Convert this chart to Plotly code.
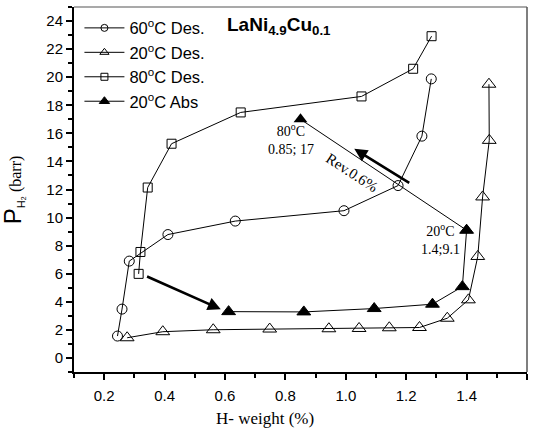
import plotly.graph_objects as go

# 60 °C desorption isotherm
des60_x = [0.244, 0.259, 0.283, 0.411, 0.634, 0.994, 1.173, 1.252, 1.283]
des60_y = [1.56, 3.48, 6.90, 8.79, 9.75, 10.49, 12.28, 15.8, 19.88]

# 20 °C desorption isotherm
des20_x = [0.276, 0.394, 0.561, 0.748, 0.944, 1.044, 1.144, 1.244, 1.336, 1.406, 1.437, 1.453, 1.475, 1.474]
des20_y = [1.44, 1.87, 2.01, 2.06, 2.08, 2.10, 2.15, 2.17, 2.83, 4.14, 7.23, 11.47, 15.5, 19.5]

# 80 °C desorption isotherm
des80_x = [0.314, 0.320, 0.344, 0.423, 0.652, 1.052, 1.223, 1.284]
des80_y = [5.99, 7.55, 12.14, 15.26, 17.49, 18.63, 20.6, 22.92]

# 20 °C absorption isotherm
abs20_x = [0.612, 0.861, 1.094, 1.287, 1.386, 1.4]
abs20_y = [3.30, 3.28, 3.52, 3.83, 5.08, 9.1]

# reversible capacity segment between the two labelled states
rev_x = [1.4, 0.85]
rev_y = [9.1, 17]

series_names = ["60<sup>o</sup>C Des.", "20<sup>o</sup>C Des.", "80<sup>o</sup>C Des.", "20<sup>o</sup>C Abs"]

serif = "Times New Roman, Liberation Serif, serif"
sans = "Arial, Liberation Sans, sans-serif"

fig = go.Figure()
line = dict(color="black", width=1)
styles = [
    ("circle-open", 10, 7),
    ("triangle-up-open", 12, 8),
    ("square-open", 9, 7),
    ("triangle-up", 12, 9),
]
data = [(des60_x, des60_y), (des20_x, des20_y), (des80_x, des80_y), (abs20_x, abs20_y)]

for (xs, ys), (sym, size, _), name in zip(data, styles, series_names):
    fig.add_trace(go.Scatter(x=xs, y=ys, mode="lines+markers", line=line,
                             marker=dict(symbol=sym, size=size, color="black", line=dict(width=1, color="black")),
                             name=name, showlegend=False))

fig.add_trace(go.Scatter(x=rev_x, y=rev_y, mode="lines+markers", line=line,
                         marker=dict(symbol="triangle-up", size=12, color="black"),
                         showlegend=False))

# legend entries drawn with smaller symbols
for (sym, _, lsize), name in zip(styles, series_names):
    fig.add_trace(go.Scatter(x=[None], y=[None], mode="lines+markers", line=line,
                             marker=dict(symbol=sym, size=lsize, color="black", line=dict(width=1, color="black")),
                             name=name, showlegend=True))

arrows = [
    dict(x=0.337, y=5.85, ax=0.586, ay=3.47),
    dict(x=1.215, y=12.4, ax=1.028, ay=14.9),
]
anns = []
for a in arrows:
    anns.append(dict(x=a["ax"], y=a["ay"], ax=a["x"], ay=a["y"], xref="x", yref="y",
                     axref="x", ayref="y", showarrow=True, arrowhead=2, arrowsize=1,
                     arrowwidth=2.6, arrowcolor="black", text=""))

anns += [
    dict(x=0.818, y=15.6, xref="x", yref="y", showarrow=False,
         text="80<sup>o</sup>C<br>0.85; 17", font=dict(family=serif, size=14, color="black")),
    dict(x=1.312, y=8.5, xref="x", yref="y", showarrow=False,
         text="20<sup>o</sup>C<br>1.4;9.1", font=dict(family=serif, size=14, color="black")),
    dict(x=1.022, y=13.2, xref="x", yref="y", showarrow=False, textangle=33,
         text="Rev.0.6%", font=dict(family=serif, size=15, color="black")),
    dict(x=0.452, y=0.985, xref="paper", yref="paper", showarrow=False, xanchor="center", yanchor="top",
         text="<b>LaNi<sub>4.9</sub>Cu<sub>0.1</sub></b>", font=dict(family=sans, size=19, color="black")),
    dict(x=0.422, y=-0.127, xref="paper", yref="paper", showarrow=False, xanchor="center", yanchor="middle",
         text="H- weight (%)", font=dict(family=serif, size=17, color="black")),
    dict(x=-0.135, y=0.50, xref="paper", yref="paper", showarrow=False, textangle=-90,
         xanchor="center", yanchor="middle",
         text="<span style='font-family:Arial, Liberation Sans, sans-serif;font-size:24px'>P</span>"
              "<sub><span style='font-family:Arial, Liberation Sans, sans-serif;font-size:11px'>H₂</span></sub>"
              " (barr)",
         font=dict(family=serif, size=16, color="black")),
]

fig.update_layout(
    width=537, height=432,
    margin=dict(l=74, r=10, t=7, b=60),
    paper_bgcolor="white", plot_bgcolor="white",
    showlegend=True,
    legend=dict(x=0.012, y=0.99, xanchor="left", yanchor="top", bgcolor="rgba(0,0,0,0)",
                font=dict(family=sans, size=16.5, color="black"), tracegroupgap=0, itemwidth=40),
    annotations=anns,
    shapes=[
        dict(type="line", xref="paper", yref="paper", x0=0, x1=1, y0=1, y1=1,
             line=dict(color="#555", width=1.2)),
        dict(type="line", xref="paper", yref="paper", x0=1, x1=1, y0=0, y1=1,
             line=dict(color="#555", width=1.5)),
    ],
)
fig.update_xaxes(range=[0.1, 1.6], tickvals=[0.2, 0.4, 0.6, 0.8, 1.0, 1.2, 1.4, 1.6],
                 ticktext=["0.2", "0.4", "0.6", "0.8", "1.0", "1.2", "1.4", "1.6"],
                 ticks="outside", ticklen=6, tickwidth=1.5, tickcolor="black", ticklabelstandoff=3,
                 minor=dict(dtick=0.1, tick0=0.1, ticks="outside", ticklen=4, tickcolor="black"),
                 showline=True, linecolor="black", linewidth=2, showgrid=False, zeroline=False,
                 tickfont=dict(family=sans, size=15, color="black"))
fig.update_yaxes(range=[-1, 25], tickvals=list(range(0, 25, 2)),
                 ticks="outside", ticklen=6, tickwidth=1.5, tickcolor="black",
                 minor=dict(dtick=1, tick0=0, ticks="outside", ticklen=4, tickcolor="black"),
                 showline=True, linecolor="black", linewidth=2, showgrid=False, zeroline=False,
                 tickfont=dict(family=sans, size=15, color="black"))

fig.write_html("out.html")
